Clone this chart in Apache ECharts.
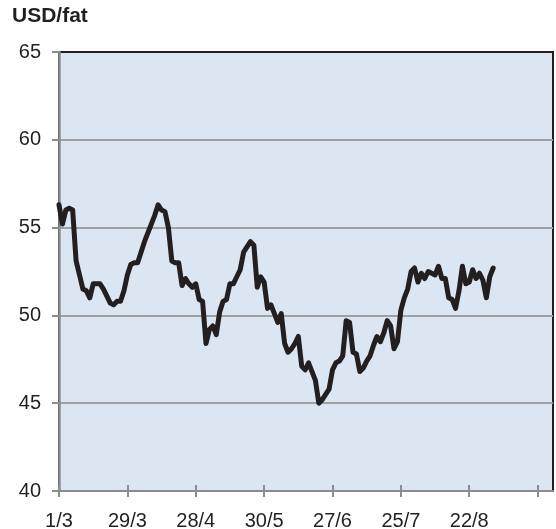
<!DOCTYPE html>
<html><head><meta charset="utf-8">
<script src="https://cdn.jsdelivr.net/npm/echarts@6/dist/echarts.min.js"></script>
<style>html,body{margin:0;padding:0;background:#fff}#c{width:556px;height:529px}</style>
</head><body><div id="c"></div>
<script>
const title = 'USD/fat';
const tickLabels = ['1/3', '29/3', '28/4', '30/5', '27/6', '25/7', '22/8', ''];
const tickPositions = [0, 20, 40, 60, 80, 100, 120, 140];
const prices = [
  56.3, 55.2, 56.0, 56.1, 56.0, 53.1, 52.3, 51.5, 51.4, 51.0,
  51.8, 51.8, 51.8, 51.5, 51.1, 50.7, 50.6, 50.8, 50.8, 51.4,
  52.3, 52.9, 53.0, 53.0, 53.6, 54.2, 54.7, 55.2, 55.7, 56.3,
  56.0, 55.9, 55.0, 53.1, 53.0, 53.0, 51.7, 52.1, 51.8, 51.6,
  51.8, 50.9, 50.8, 48.4, 49.2, 49.4, 48.9, 50.2, 50.8, 50.9,
  51.8, 51.8, 52.2, 52.6, 53.6, 53.9, 54.2, 54.0, 51.6, 52.2,
  51.9, 50.4, 50.6, 50.1, 49.6, 50.1, 48.4, 47.9, 48.1, 48.4,
  48.8, 47.1, 46.9, 47.3, 46.8, 46.3, 45.0, 45.2, 45.5, 45.8,
  46.9, 47.3, 47.4, 47.7, 49.7, 49.6, 47.9, 47.8, 46.8, 47.0,
  47.4, 47.7, 48.3, 48.8, 48.5, 49.0, 49.7, 49.4, 48.1, 48.5,
  50.3, 51.0, 51.5, 52.5, 52.7, 51.9, 52.4, 52.1, 52.5, 52.4,
  52.3, 52.8, 52.1, 52.1, 51.0, 50.9, 50.4, 51.4, 52.8, 51.8,
  51.9, 52.6, 52.1, 52.4, 52.0, 51.0, 52.2, 52.7
];
const fontFamily = '"Liberation Sans", Arial, sans-serif';
const chart = echarts.init(document.getElementById('c'), null, {renderer: 'canvas'});
const tickStyle = {color: '#8c8c8c', width: 2};
chart.setOption({
  animation: false,
  graphic: [{
    type: 'text', left: 12, top: 6,
    style: {text: title, font: 'bold 21px ' + fontFamily, fill: '#231f20'}
  }],
  grid: {
    left: 59, top: 52, right: 3, bottom: 38, show: true,
    containLabel: false, outerBoundsMode: 'none',
    backgroundColor: '#dce6f2', borderColor: '#231f20', borderWidth: 2
  },
  xAxis: [{
    type: 'value', min: 0, max: 144.5, interval: 20, position: 'bottom',
    axisLine: {show: true, lineStyle: {color: '#8c8c8c', width: 2}},
    axisTick: {show: true, inside: false, length: 6, customValues: tickPositions, lineStyle: tickStyle},
    axisLabel: {
      customValues: tickPositions,
      formatter: v => { const k = Math.round(v / 20); return (v % 20 === 0 && tickLabels[k] !== undefined) ? tickLabels[k] : ''; },
      margin: 20, color: '#231f20', fontSize: 20, fontFamily: fontFamily
    },
    splitLine: {show: false}
  }, {
    type: 'value', min: 0, max: 144.5, interval: 20, position: 'bottom',
    axisLine: {show: false},
    axisTick: {show: true, inside: true, length: 6, customValues: tickPositions, lineStyle: tickStyle},
    axisLabel: {show: false},
    splitLine: {show: false}
  }],
  yAxis: {
    type: 'value', min: 40, max: 65, interval: 5,
    axisLine: {show: true, lineStyle: {color: '#8c8c8c', width: 2.5}},
    axisTick: {show: true, length: 7, lineStyle: tickStyle},
    axisLabel: {margin: 18, fontSize: 20, color: '#231f20', fontFamily: fontFamily},
    splitLine: {show: true, showMinLine: false, showMaxLine: false, lineStyle: {color: '#a0a0a0', width: 2}}
  },
  series: [{
    type: 'line', xAxisIndex: 0,
    data: prices.map((v, i) => [i, v]),
    showSymbol: false, symbol: 'none', silent: true,
    lineStyle: {color: '#231f20', width: 5, cap: 'round', join: 'round'}
  }]
});
</script>
</body></html>
